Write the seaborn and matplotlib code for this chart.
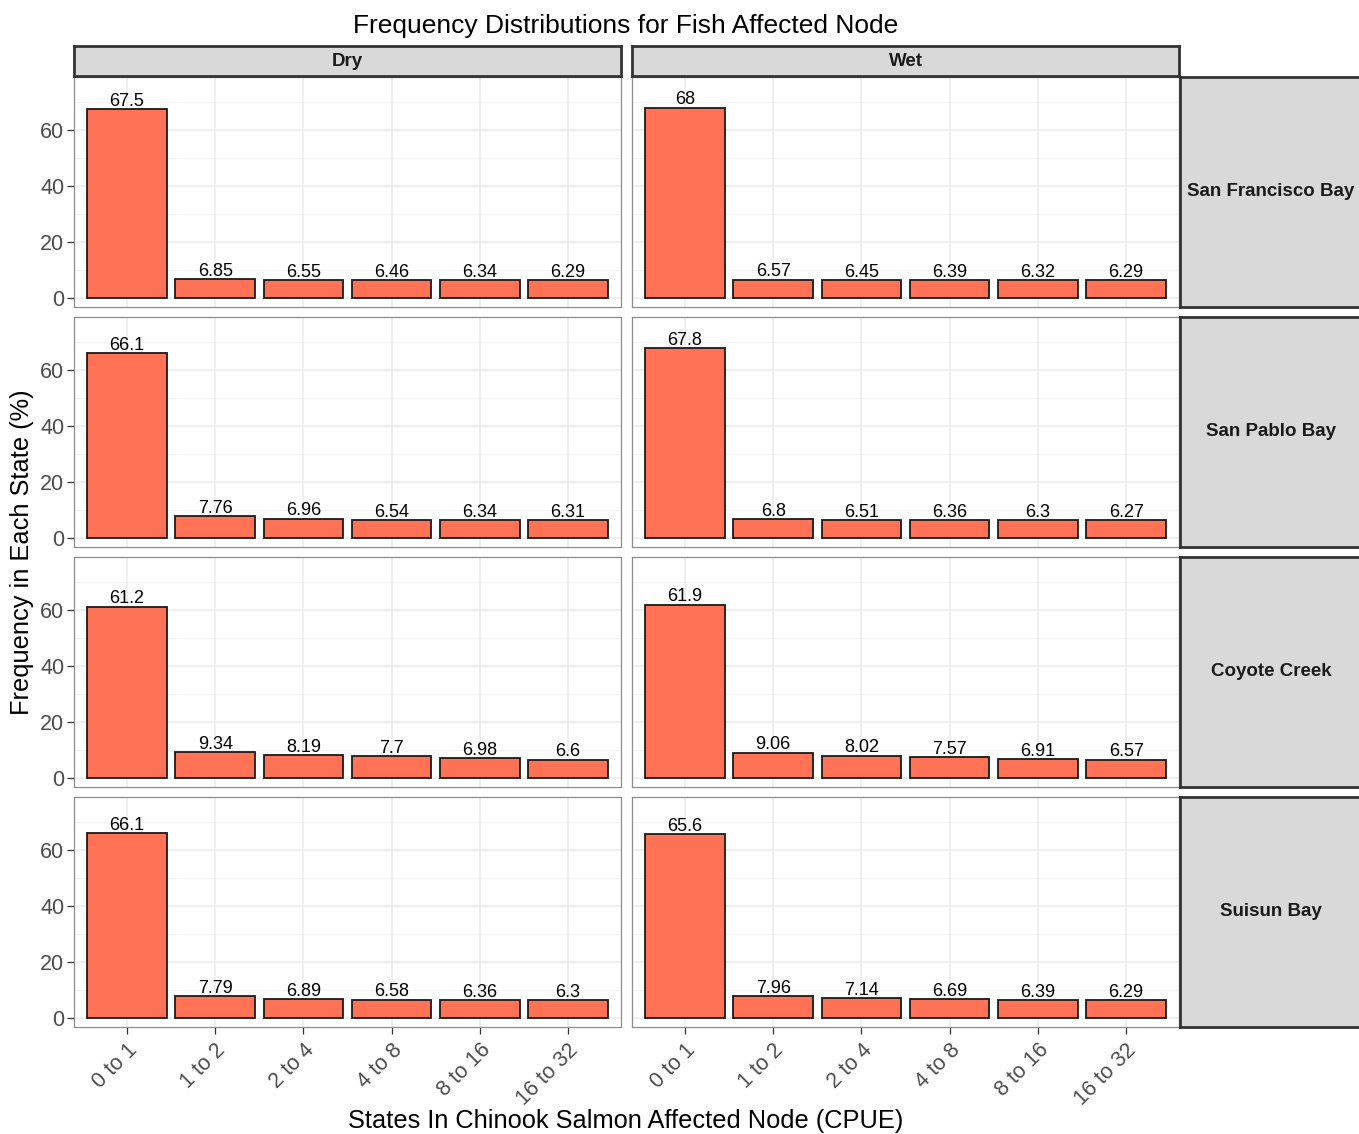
import matplotlib
matplotlib.use("Agg")
import matplotlib.pyplot as plt
import seaborn as sns
import pandas as pd
import numpy as np

states = ["0 to 1", "1 to 2", "2 to 4", "4 to 8", "8 to 16", "16 to 32"]
seasons = ["Dry", "Wet"]
locations = ["San Francisco Bay", "San Pablo Bay", "Coyote Creek", "Suisun Bay"]

dry_sf = [67.5, 6.85, 6.55, 6.46, 6.34, 6.29]
dry_sp = [66.1, 7.76, 6.96, 6.54, 6.34, 6.31]
dry_cc = [61.2, 9.34, 8.19, 7.7, 6.98, 6.6]
dry_sb = [66.1, 7.79, 6.89, 6.58, 6.36, 6.3]
wet_sf = [68, 6.57, 6.45, 6.39, 6.32, 6.29]
wet_sp = [67.8, 6.8, 6.51, 6.36, 6.3, 6.27]
wet_cc = [61.9, 9.06, 8.02, 7.57, 6.91, 6.57]
wet_sb = [65.6, 7.96, 7.14, 6.69, 6.39, 6.29]

values = {
    ("Dry", "San Francisco Bay"): dry_sf,
    ("Dry", "San Pablo Bay"): dry_sp,
    ("Dry", "Coyote Creek"): dry_cc,
    ("Dry", "Suisun Bay"): dry_sb,
    ("Wet", "San Francisco Bay"): wet_sf,
    ("Wet", "San Pablo Bay"): wet_sp,
    ("Wet", "Coyote Creek"): wet_cc,
    ("Wet", "Suisun Bay"): wet_sb,
}

rows = []
for (s, l), v in values.items():
    for st, val in zip(states, v):
        rows.append({"Season": s, "Location": l, "State": st, "Freq": val})
df = pd.DataFrame(rows)

sns.set_theme(style="white")
plt.rcParams["font.family"] = ["Liberation Sans", "DejaVu Sans"]

W, H = 1359, 1134
fig = plt.figure(figsize=(W / 100, H / 100), dpi=100)

def fx(px):
    return px / W

def fy(py):
    return 1 - py / H

col_x = [74, 632]
panel_w = 547
row_y = [77, 317, 557, 797]
panel_h = 230
bar_color = "#FF7256"
dark = "#333333"

for ci, season in enumerate(seasons):
    for ri, loc in enumerate(locations):
        ax = fig.add_axes([fx(col_x[ci]), fy(row_y[ri] + panel_h), fx(panel_w), panel_h / H])
        sub = df[(df.Season == season) & (df.Location == loc)]
        for g in [0, 20, 40, 60]:
            ax.axhline(g, color="#EBEBEB", lw=1.1, zorder=0)
        for g in [10, 30, 50, 70]:
            ax.axhline(g, color="#F2F2F2", lw=0.6, zorder=0)
        for xi in range(len(states)):
            ax.axvline(xi, color="#EBEBEB", lw=1.1, zorder=0)
        sns.barplot(data=sub, x="State", y="Freq", order=states, color=bar_color,
                    saturation=1, width=0.9, edgecolor="#1a1a1a", linewidth=1.3,
                    ax=ax, zorder=2)
        for xi, val in enumerate(sub["Freq"].tolist()):
            ax.text(xi, val - 0.3, f"{val:g}", ha="center", va="bottom", fontsize=13,
                    color="black", zorder=3)
        ax.set_xlim(-0.6, 5.6)
        ax.set_ylim(-3.2, 78.9)
        ax.set_yticks([0, 20, 40, 60])
        ax.set_xlabel("")
        ax.set_ylabel("")
        for sp in ax.spines.values():
            sp.set_color("#8c8c8c")
            sp.set_linewidth(0.9)
        ax.tick_params(axis="both", which="both", length=5, width=0.9, color="#333333",
                       direction="out", bottom=True, left=True)
        if ci == 0:
            ax.tick_params(axis="y", labelsize=15.5, labelcolor="#4D4D4D", pad=2)
        else:
            ax.tick_params(axis="y", left=False, labelleft=False)
        if ri == len(locations) - 1:
            ax.set_xticks(range(len(states)))
            ax.set_xticklabels(states, rotation=45, ha="right", rotation_mode="anchor",
                               fontsize=15.5, color="#4D4D4D")
            ax.tick_params(axis="x", pad=4)
        else:
            ax.tick_params(axis="x", bottom=False, labelbottom=False)

# column strips
for ci, season in enumerate(seasons):
    sax = fig.add_axes([fx(col_x[ci]), fy(76), fx(panel_w), 30 / H])
    sax.set_facecolor("#D9D9D9")
    sax.set_xticks([]); sax.set_yticks([])
    for sp in sax.spines.values():
        sp.set_color(dark); sp.set_linewidth(2)
    sax.text(0.5, 0.5, season, ha="center", va="center", fontsize=13.5,
             fontweight="bold", color="#1a1a1a", transform=sax.transAxes)

# row strips
for ri, loc in enumerate(locations):
    sax = fig.add_axes([fx(1180), fy(row_y[ri] + panel_h), fx(190), panel_h / H])
    sax.set_facecolor("#D9D9D9")
    sax.set_xticks([]); sax.set_yticks([])
    for sp in sax.spines.values():
        sp.set_color(dark); sp.set_linewidth(2)
    sax.text((1271 - 1180) / 190, 0.5, loc, ha="center", va="center", fontsize=13.5,
             fontweight="bold", color="#1a1a1a", transform=sax.transAxes)

fig.text(fx(626), fy(26), "Frequency Distributions for Fish Affected Node",
         ha="center", va="center", fontsize=19, color="black")
fig.text(fx(626), fy(1121), "States In Chinook Salmon Affected Node (CPUE)",
         ha="center", va="center", fontsize=18.3, color="black")
fig.text(fx(22), fy(552), "Frequency in Each State (%)", ha="center", va="center",
         rotation=90, fontsize=18.3, color="black")

fig.savefig("out.png", dpi=100, facecolor="white")
